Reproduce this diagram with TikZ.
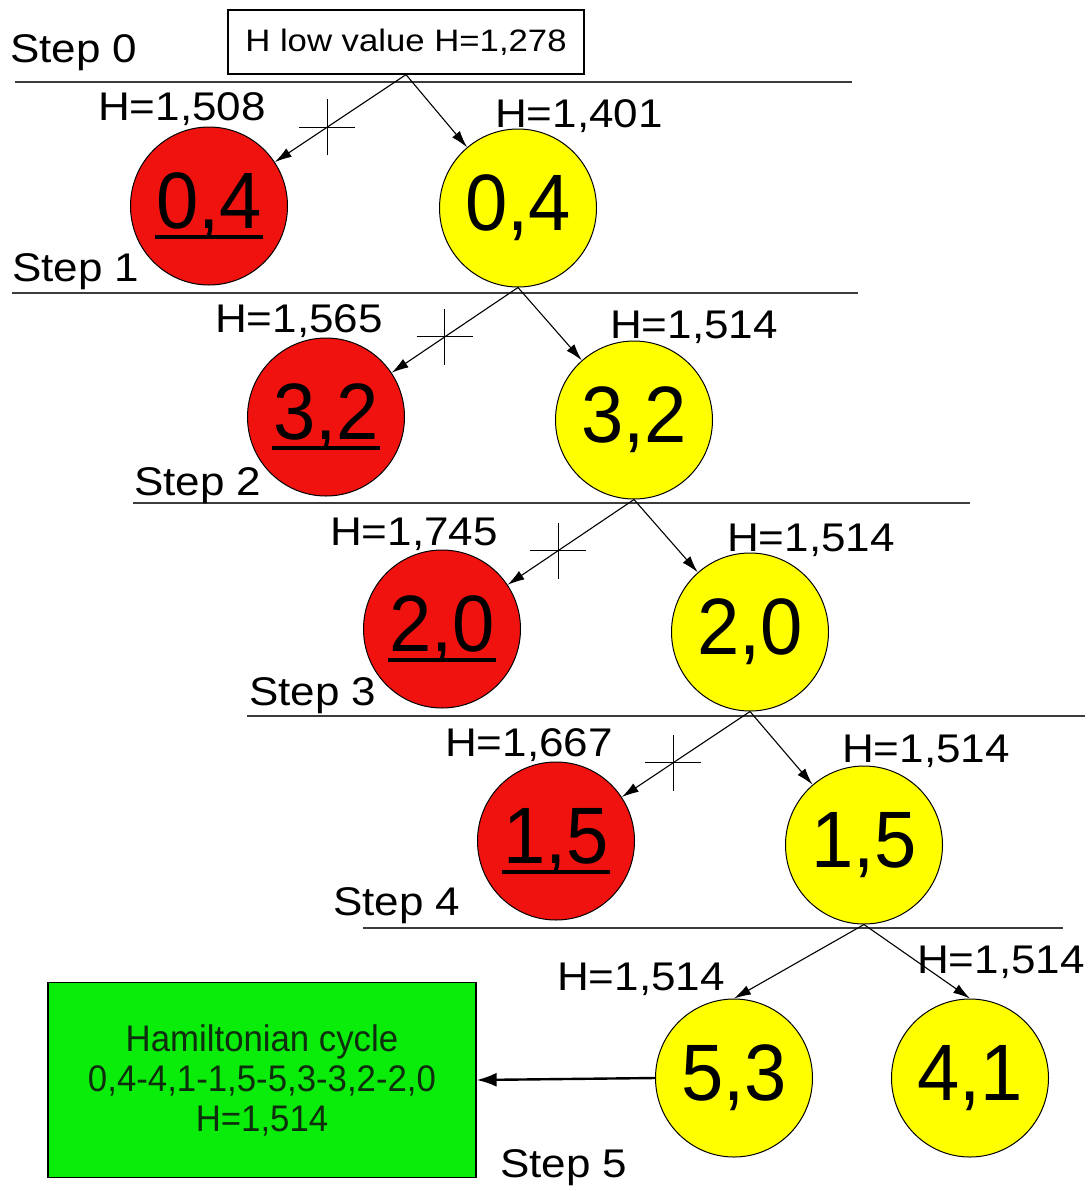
\documentclass[tikz,border=0pt]{standalone}
\usepackage{fontspec}
\setmainfont{Liberation Sans}
\newfontfamily\lblfont[FakeStretch=1.1]{Liberation Sans}
\newfontfamily\boxfont[FakeStretch=1.12]{Liberation Sans}
\newfontfamily\bigfont[FakeStretch=0.95]{Liberation Sans}
\newfontfamily\cndfont[FakeStretch=0.94]{Liberation Sans}
\usetikzlibrary{shapes.geometric,arrows.meta}
\definecolor{nred}{RGB}{240,18,14}
\definecolor{nyel}{RGB}{255,255,0}
\definecolor{ngrn}{RGB}{10,236,10}
\definecolor{gtxt}{RGB}{14,46,14}
\definecolor{lvl}{RGB}{60,60,60}
\begin{document}
\begin{tikzpicture}[x=1pt,y=-1pt,
  lbl/.style={anchor=base west, inner sep=0, font=\lblfont\fontsize{40}{44}\selectfont},
  vert/.style={ellipse, draw=black, line width=1pt, minimum width=157pt, minimum height=158pt, inner sep=0, font=\bigfont\fontsize{80}{82}\selectfont},
  rednode/.style={vert, fill=nred},
  yelnode/.style={vert, fill=nyel},
  conn/.style={line width=1.1pt, -{Latex[length=17pt,width=10pt]}},
  levelline/.style={draw=lvl, line width=1.8pt},
  xbar/.style={line width=1.1pt},
  uline/.style={line width=4pt}
]
\useasboundingbox[fill=white] (0,0) rectangle (1090,1191);

% level lines
\draw[levelline] (15,82) -- (852,82);
\draw[levelline] (12,293) -- (858,293);
\draw[levelline] (133,503) -- (970,503);
\draw[levelline] (247,716) -- (1085,716);
\draw[levelline] (363,928) -- (1063,928);

% step labels
\node[lbl] (s0) at (10,62) {Step 0};
\node[lbl] (s1) at (12,281) {Step 1};
\node[lbl] (s2) at (134,495) {Step 2};
\node[lbl] (s3) at (249,705) {Step 3};
\node[lbl] (s4) at (333,915) {Step 4};
\node[lbl] (s5) at (500,1177) {Step 5};

% H labels
\node[lbl] (h1a) at (98,120) {H=1,508};
\node[lbl] (h1b) at (495,127) {H=1,401};
\node[lbl] (h2a) at (215,332) {H=1,565};
\node[lbl] (h2b) at (610,338) {H=1,514};
\node[lbl] (h3a) at (330,545) {H=1,745};
\node[lbl] (h3b) at (727,551) {H=1,514};
\node[lbl] (h4a) at (445,756) {H=1,667};
\node[lbl] (h4b) at (842,762) {H=1,514};
\node[lbl] (h5a) at (557,990) {H=1,514};
\node[lbl] (h5b) at (917,973) {H=1,514};

% top box
\node[draw, line width=1.2pt, inner sep=0, minimum width=356pt, minimum height=64pt,
      font=\boxfont\fontsize{31}{34}\selectfont] (top) at (406,42) {H low value H=1,278};

% vertices
\node[rednode] (r1) at (209,206) {0,4};
\node[yelnode] (y1) at (518,208) {0,4};
\node[rednode] (r2) at (326,417) {3,2};
\node[yelnode] (y2) at (634,420) {3,2};
\node[rednode] (r3) at (442,629) {2,0};
\node[yelnode] (y3) at (750,632) {2,0};
\node[rednode] (r4) at (556,841) {1,5};
\node[yelnode] (y4) at (864,845) {1,5};
\node[yelnode] (y5a) at (734,1078) {5,3};
\node[yelnode] (y5b) at (970,1078) {4,1};

% underlines of rejected vertices
\foreach \n in {r1,r2,r3,r4}
  \draw[uline] ([shift={(-54,31)}]\n.center) -- ([shift={(54,31)}]\n.center);

% result box
\node[draw=black, line width=1.2pt, fill=ngrn, minimum width=428pt, minimum height=195pt,
      inner sep=0, align=center, text=gtxt,
      font=\cndfont\fontsize{37}{40}\selectfont] (hc) at (262,1080)
      {Hamiltonian cycle\\0,4-4,1-1,5-5,3-3,2-2,0\\H=1,514};

% connectors
\draw[conn] (top.south) -- coordinate[pos=0.6] (x1) (r1);
\draw[conn] (top.south) -- (y1);
\draw[conn] (y1.south) -- coordinate[pos=0.58] (x2) (r2);
\draw[conn] (y1.south) -- (y2);
\draw[conn] (y2.south) -- coordinate[pos=0.6] (x3) (r3);
\draw[conn] (y2.south) -- (y3);
\draw[conn] (y3.south) -- coordinate[pos=0.6] (x4) (r4);
\draw[conn] (y3.south) -- (y4);
\draw[conn] (y4.south) -- (y5a.north);
\draw[conn] (y4.south) -- (y5b.north);
\draw[line width=2.4pt, -{Latex[length=20pt,width=14pt]}] (y5a.west) -- (hc.east);

% cut marks
\foreach \c in {x1,x2,x3,x4}
  \draw[xbar] ([xshift=-28pt]\c) -- ([xshift=28pt]\c) ([yshift=-28pt]\c) -- ([yshift=28pt]\c);
\end{tikzpicture}
\end{document}
